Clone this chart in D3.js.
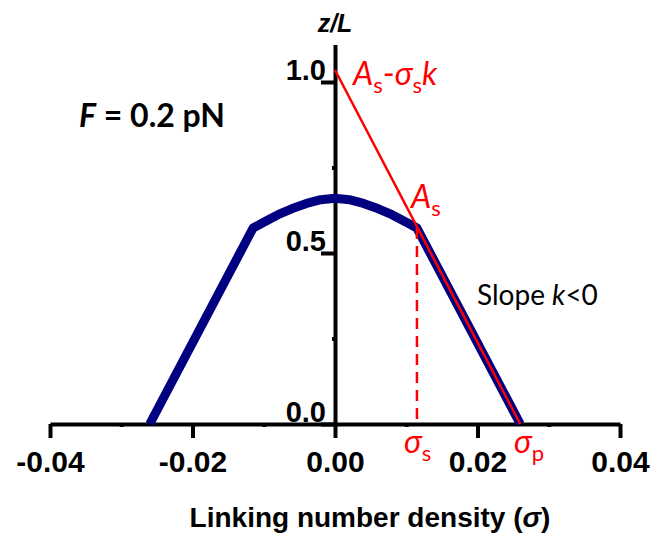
<!DOCTYPE html>
<html>
<head>
<meta charset="utf-8">
<script src="https://cdn.jsdelivr.net/npm/d3@7"></script>
<style>
  body { margin: 0; background: #fff; }
  svg { display: block; }
  .lbl { font-family: Lato, "Open Sans", sans-serif; }
  .axisTxt { font-family: "Liberation Sans", Arial, sans-serif; font-weight: bold; }
</style>
</head>
<body>
<div id="chart"></div>
<script>
// DATA //
// z/L vs linking number density at F = 0.2 pN
const sigmaValues = [-0.026, -0.0115, -0.010, -0.008, -0.006, -0.004, -0.002, 0,
                     0.002, 0.004, 0.006, 0.008, 0.010, 0.0115, 0.026]
const zValues = [0, 0.573, 0.590, 0.612, 0.630, 0.645, 0.656, 0.660,
                 0.656, 0.645, 0.630, 0.612, 0.590, 0.573, 0]

// tangent line A_s - sigma_s k  ->  sigma_p
const tangentSigma = [0, 0.026]
const tangentZ = [1.035, 0]

// sigma_s marker
const sigmaS = 0.0115
const zS = 0.573

const xTicks = [-0.04, -0.02, 0, 0.02, 0.04]
const xMinorTicks = [-0.03, -0.01, 0.01, 0.03]
const yTicks = [0, 0.5, 1.0]
const yMinorTicks = [0.25, 0.75]

// GLOBAL VARIABLES //
const width = 656
const height = 537

const svg = d3.select("#chart")
    .append("svg")
    .attr("width", width)
    .attr("height", height)

// scales
const xScale = d3.scaleLinear()
    .domain([-0.04, 0.04])
    .range([50, 620])

const yScale = d3.scaleLinear()
    .domain([0, 1])
    .range([424, 82])

// y axis line runs a little past 1.0
const yAxisScale = yScale.copy()
    .domain([0, 1.11])
    .range([yScale(0), yScale(1.11)])

const x0 = xScale(0)
const y0 = yScale(0)

// plain hyphen for negatives, like the original
const fmt = f => d => d3.format(f)(d).replace("−", "-")

// x axis
const xAxis = svg.append("g")
    .attr("transform", `translate(0, ${y0})`)
    .call(d3.axisBottom(xScale)
        .tickValues(xTicks)
        .tickSize(14)
        .tickSizeOuter(0)
        .tickFormat(fmt(".2f")))

xAxis.selectAll("text")
    .attr("class", "axisTxt")
    .attr("y", 48)
    .attr("dy", 0)
    .style("font-size", "30px")
    .attr("fill", "black")

svg.append("g")
    .attr("transform", `translate(0, ${y0})`)
    .call(d3.axisBottom(xScale)
        .tickValues(xMinorTicks)
        .tickSize(3)
        .tickFormat(""))
    .call(g => g.select(".domain").remove())

// y axis
const yAxis = svg.append("g")
    .attr("transform", `translate(${x0}, 0)`)
    .call(d3.axisLeft(yAxisScale)
        .tickValues(yTicks)
        .tickSize(14)
        .tickSizeOuter(0)
        .tickFormat(fmt(".1f")))

yAxis.selectAll("text")
    .attr("class", "axisTxt")
    .attr("x", -9)
    .attr("y", -3)
    .attr("dy", 0)
    .style("font-size", "29px")
    .attr("fill", "black")

svg.append("g")
    .attr("transform", `translate(${x0}, 0)`)
    .call(d3.axisLeft(yAxisScale)
        .tickValues(yMinorTicks)
        .tickSize(3)
        .tickFormat(""))
    .call(g => g.select(".domain").remove())

svg.selectAll(".domain, .tick line")
    .attr("stroke", "black")
    .attr("stroke-width", 4)

// curve
const curveData = sigmaValues.map((s, i) => ({ s: s, z: zValues[i] }))
const lineGen = d3.line()
    .x(d => xScale(d.s))
    .y(d => yScale(d.z))

svg.append("path")
    .datum(curveData)
    .attr("d", lineGen)
    .attr("fill", "none")
    .attr("stroke", "#000080")
    .attr("stroke-width", 9)
    .attr("stroke-linejoin", "round")

// tangent line
const tangentData = tangentSigma.map((s, i) => ({ s: s, z: tangentZ[i] }))
svg.append("path")
    .datum(tangentData)
    .attr("d", lineGen)
    .attr("fill", "none")
    .attr("stroke", "#ff0000")
    .attr("stroke-width", 2.5)

// dashed drop line at sigma_s
svg.append("line")
    .attr("x1", xScale(sigmaS))
    .attr("x2", xScale(sigmaS))
    .attr("y1", yScale(zS))
    .attr("y2", y0)
    .attr("stroke", "#ff0000")
    .attr("stroke-width", 2.5)
    .attr("stroke-dasharray", "11,7")

// LABELS //
svg.append("text")
    .attr("class", "axisTxt")
    .attr("x", x0)
    .attr("y", 32)
    .attr("text-anchor", "middle")
    .style("font-size", "25px")
    .style("font-style", "italic")
    .text("z/L")

const xTitle = svg.append("text")
    .attr("class", "axisTxt")
    .attr("x", 370)
    .attr("y", 527)
    .attr("text-anchor", "middle")
    .style("font-size", "28px")
xTitle.append("tspan").text("Linking number density (")
xTitle.append("tspan").style("font-style", "italic").text("σ")
xTitle.append("tspan").text(")")

const fLabel = svg.append("text")
    .attr("class", "lbl")
    .attr("x", 79)
    .attr("y", 127)
    .style("font-size", "32px")
    .style("font-weight", "bold")
fLabel.append("tspan").style("font-style", "italic").text("F")
fLabel.append("tspan").text(" = 0.2 pN")

const slopeLabel = svg.append("text")
    .attr("class", "lbl")
    .attr("x", 477)
    .attr("y", 305)
    .style("font-size", "28px")
slopeLabel.append("tspan").text("Slope ")
slopeLabel.append("tspan").style("font-style", "italic").text("k")
slopeLabel.append("tspan").text("<0")

// red labels with subscripts
function redLabel(x, y, parts) {
    const t = svg.append("text")
        .attr("class", "lbl")
        .attr("x", x)
        .attr("y", y)
        .attr("fill", "#ff0000")
        .style("font-size", "32px")
    parts.forEach(p => {
        const ts = t.append("tspan").text(p.t)
        if (p.i) ts.style("font-style", "italic")
        if (p.sub) ts.style("font-size", "22px").attr("dy", 8)
        if (p.up) ts.attr("dy", -8)
    })
}

redLabel(353, 85, [
    { t: "A", i: true }, { t: "s", sub: true }, { t: "-", up: true },
    { t: "σ", i: true }, { t: "s", sub: true }, { t: "k", i: true, up: true }
])
redLabel(411, 208, [{ t: "A", i: true }, { t: "s", sub: true }])
redLabel(404, 453, [{ t: "σ", i: true }, { t: "s", sub: true }])
redLabel(514, 453, [{ t: "σ", i: true }, { t: "p", sub: true }])
</script>
</body>
</html>
